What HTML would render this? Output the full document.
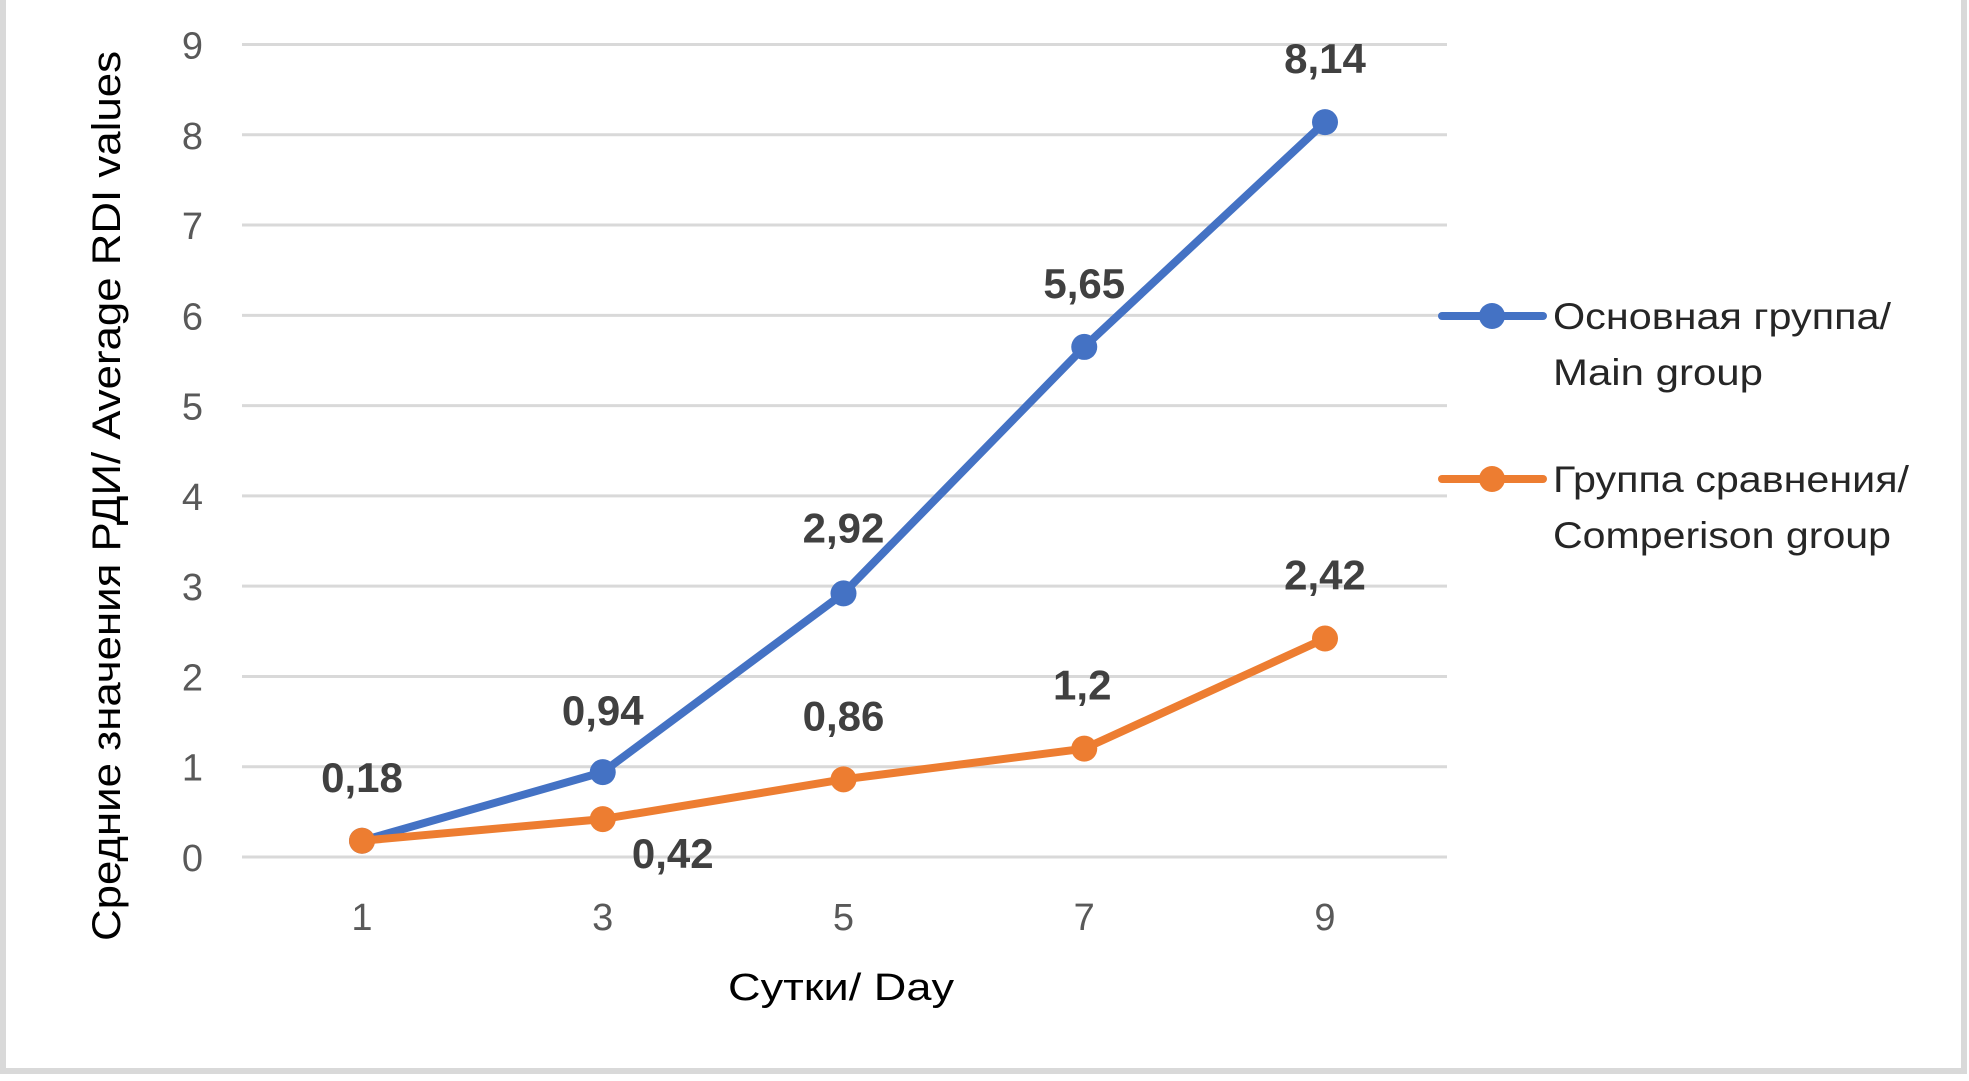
<!DOCTYPE html>
<html><head><meta charset="utf-8"><style>
html,body{margin:0;padding:0;background:#fff;width:1969px;height:1081px;overflow:hidden}
svg{display:block}
text{font-family:"Liberation Sans",sans-serif}
</style></head><body>
<svg id="chart" width="1969" height="1081" viewBox="0 0 1969 1081" xmlns="http://www.w3.org/2000/svg">
<rect x="3" y="-5" width="1961" height="1076" fill="#fff" stroke="#d9d9d9" stroke-width="6"/>
<g id="grid"></g><g id="series"></g><g id="labels"></g>
<text transform="translate(120,496) rotate(-90)" text-anchor="middle" font-size="40" fill="#000" textLength="890" lengthAdjust="spacingAndGlyphs">Средние значения РДИ/ Average RDI values</text>
<text x="841" y="1000" text-anchor="middle" font-size="38" fill="#000" textLength="226" lengthAdjust="spacingAndGlyphs">Сутки/ Day</text>
<g>
<g>
<line x1="1442" y1="316" x2="1543" y2="316" stroke="#4472C4" stroke-width="8" stroke-linecap="round"/>
<circle cx="1492" cy="316" r="13" fill="#4472C4"/>
<text x="1553" y="329" font-size="37" fill="#262626" textLength="338" lengthAdjust="spacingAndGlyphs">Основная группа/</text>
<text x="1553" y="385" font-size="37" fill="#262626" textLength="210" lengthAdjust="spacingAndGlyphs">Main group</text>
</g>
<g>
<line x1="1442" y1="479" x2="1543" y2="479" stroke="#ED7D31" stroke-width="8" stroke-linecap="round"/>
<circle cx="1492" cy="479" r="13" fill="#ED7D31"/>
<text x="1553" y="492" font-size="37" fill="#262626" textLength="356" lengthAdjust="spacingAndGlyphs">Группа сравнения/</text>
<text x="1553" y="548" font-size="37" fill="#262626" textLength="338" lengthAdjust="spacingAndGlyphs">Comperison group</text>
</g>
</g>
</svg>
<script>
const categories = ["1","3","5","7","9"];
const mainValues = [0.18, 0.94, 2.92, 5.65, 8.14];
const compValues = [0.18, 0.42, 0.86, 1.2, 2.42];
const mainLabels = ["0,18","0,94","2,92","5,65","8,14"];
const compLabels = ["","0,42","0,86","1,2","2,42"];
const yTicks = [0,1,2,3,4,5,6,7,8,9];

const NS="http://www.w3.org/2000/svg";
const plotL=242, plotR=1447, y0=857, y9=44.5;
function xPos(i){return 362 + i*(1325-362)/(categories.length-1);}
function yPos(v){return y0 - v*(y0-y9)/9;}
function mk(tag,attrs,parent){const e=document.createElementNS(NS,tag);for(const k in attrs)e.setAttribute(k,attrs[k]);parent.appendChild(e);return e;}
const grid=document.getElementById('grid'), series=document.getElementById('series'), labels=document.getElementById('labels');
yTicks.forEach(t=>{
  const l=mk('line',{x1:plotL,x2:plotR,y1:yPos(t),y2:yPos(t),stroke:'#d9d9d9','stroke-width':3},grid);
  
  
  const tx=mk('text',{x:203,y:yPos(t)+14,'text-anchor':'end','font-size':38,fill:'#595959'},grid);
  tx.textContent=t;
  
  
});
categories.forEach((c,i)=>{
  const tx=mk('text',{x:xPos(i),y:930,'text-anchor':'middle','font-size':38,fill:'#595959'},grid);
  tx.textContent=c;
  
  
});
function drawSeries(vals,color,name){
  const pts=vals.map((v,i)=>xPos(i)+','+yPos(v)).join(' ');
  const pl=mk('polyline',{points:pts,fill:'none',stroke:color,'stroke-width':8,'stroke-linejoin':'round','stroke-linecap':'round'},series);
  
  
  vals.forEach((v,i)=>{
    const c=mk('circle',{cx:xPos(i),cy:yPos(v),r:13,fill:color},series);
    
    
  });
}
drawSeries(mainValues,'#4472C4','main-group');
drawSeries(compValues,'#ED7D31','comparison-group');
const mainOff=[[0,-64],[0,-62],[0,-66],[0,-64],[0,-64]];
mainValues.forEach((v,i)=>{
  const tx=mk('text',{x:xPos(i)+mainOff[i][0],y:yPos(v)+mainOff[i][1]+15,'text-anchor':'middle','font-size':42,'font-weight':'bold',fill:'#404040'},labels);
  tx.textContent=mainLabels[i];
  
  
});
const compOff=[[0,0],[70,34],[0,-64],[-2,-64],[0,-64]];
compValues.forEach((v,i)=>{
  if(!compLabels[i])return;
  const tx=mk('text',{x:xPos(i)+compOff[i][0],y:yPos(v)+compOff[i][1]+15,'text-anchor':'middle','font-size':42,'font-weight':'bold',fill:'#404040'},labels);
  tx.textContent=compLabels[i];
  
  
});
</script>
</body></html>
